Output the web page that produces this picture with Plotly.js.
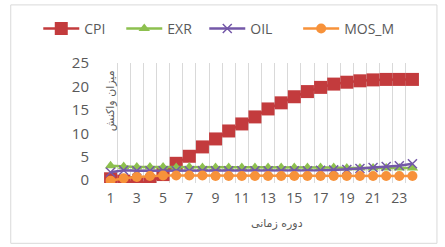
<!DOCTYPE html>
<html>
<head>
<meta charset="utf-8">
<script src="https://cdn.plot.ly/plotly-3.0.1.min.js"></script>
<style>html,body{margin:0;padding:0;background:#fff;}#chart{width:445px;height:247px;}</style>
</head>
<body>
<div id="chart"></div>
<script>
var periods = [1,2,3,4,5,6,7,8,9,10,11,12,13,14,15,16,17,18,19,20,21,22,23,24];
var tickLabels = ["1","3","5","7","9","11","13","15","17","19","21","23"];
var tickVals = [1,3,5,7,9,11,13,15,17,19,21,23];
var CPI = [0.3, -0.2, -0.5, -0.5, 1.2, 3.6, 5.1, 7.1, 8.8, 10.5, 12.0, 13.5, 15.2, 16.5, 17.8, 18.9, 19.8, 20.5, 20.9, 21.2, 21.4, 21.5, 21.5, 21.5];
var EXR = [3.1, 2.9, 2.8, 2.8, 2.8, 2.7, 2.8, 2.7, 2.7, 2.7, 2.7, 2.7, 2.7, 2.7, 2.7, 2.7, 2.7, 2.7, 2.6, 2.6, 2.6, 2.6, 2.6, 2.6];
var OIL = [1.7, 2.1, 2.0, 2.0, 2.0, 2.0, 2.0, 2.0, 2.0, 2.0, 2.0, 2.0, 2.0, 2.0, 2.0, 2.0, 2.1, 2.2, 2.3, 2.5, 2.7, 2.9, 3.1, 3.5];
var MOS_M = [-0.1, 0.4, 0.7, 0.9, 1.0, 1.0, 1.0, 1.0, 0.9, 0.9, 0.9, 0.9, 0.9, 0.9, 0.9, 0.9, 0.9, 0.9, 0.9, 0.9, 0.9, 0.9, 0.9, 0.9];
var yTicks = [0,5,10,15,20,25];
var xTitle = "دوره زمانی";
var yTitle = "میزان واکنش";

var traces = [
  {x: periods, y: CPI, name: "CPI", mode: "lines+markers", line: {color: "#C33B3D", width: 2.5}, marker: {symbol: "square", size: 13, color: "#C33B3D"}},
  {x: periods, y: EXR, name: "EXR", mode: "lines+markers", line: {color: "#8DC04F", width: 2.5}, marker: {symbol: "triangle-up", size: 10, color: "#8DC04F"}},
  {x: periods, y: OIL, name: "OIL", mode: "lines+markers", line: {color: "#7458A8", width: 2.5}, marker: {symbol: "x-thin", size: 9, color: "#7458A8", line: {color: "#7458A8", width: 1.5}}},
  {x: periods, y: MOS_M, name: "MOS_M", legend: "legend2", mode: "lines+markers", line: {color: "#F7923A", width: 2.5}, marker: {symbol: "circle", size: 10, color: "#F7923A"}}
];

var legendStyle = function (xpos, ew) {
  var l = {orientation: "h", xref: "container", yref: "container", x: xpos, xanchor: "left", y: 0.883, yanchor: "middle",
          font: {size: 14, color: "#595959"}, itemwidth: 36, tracegroupgap: 0};
  if (ew) { l.entrywidth = ew; l.entrywidthmode = "pixels"; }
  return l;
};

var layout = {
  width: 445, height: 247,
  margin: {l: 103.5, r: 26, t: 63, b: 64},
  paper_bgcolor: "#ffffff", plot_bgcolor: "#ffffff",
  font: {family: "Open Sans, DejaVu Sans", size: 14, color: "#595959"},
  showlegend: true,
  legend: legendStyle(0.086, 32),
  legend2: legendStyle(0.67, 0),
  xaxis: {
    range: [0.5, 24.5], tickmode: "array", tickvals: tickVals, ticktext: tickLabels,
    showgrid: false, zeroline: false, showline: false, ticks: "", ticklabelstandoff: 5,
    minor: {tick0: 0.5, dtick: 1, showgrid: true, gridcolor: "#D9D9D9", gridwidth: 1},
    tickfont: {size: 14, color: "#595959"}
  },
  yaxis: {
    range: [-0.6, 25], tickmode: "array", tickvals: yTicks,
    showgrid: false, zeroline: false, showline: false, ticks: "", ticklabelstandoff: 14,
    tickfont: {size: 15, color: "#595959"}
  },
  annotations: [
    {text: yTitle, xref: "paper", yref: "paper", x: -0.008, y: 0.96, textangle: -90, showarrow: false, font: {family: "DejaVu Sans", size: 11, color: "#595959"}},
    {text: xTitle, xref: "paper", yref: "paper", x: 0.55, y: -0.41, showarrow: false, font: {family: "DejaVu Sans", size: 11, color: "#595959"}}
  ],
  shapes: [
    {type: "rect", xref: "paper", yref: "paper", x0: -0.296, x1: 1.057, y0: -0.5025, y1: 1.484, line: {color: "#D9D9D9", width: 1}}
  ]
};

Plotly.newPlot("chart", traces, layout, {displayModeBar: false, staticPlot: true});
</script>
</body>
</html>
